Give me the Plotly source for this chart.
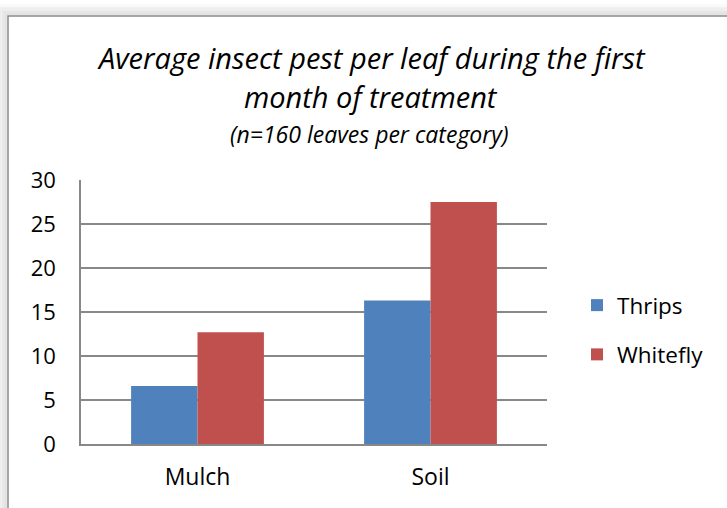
import plotly.graph_objects as go

categories = ["Mulch", "Soil"]
thrips = [6.6, 16.3]
whitefly = [12.7, 27.5]
series_names = ["Thrips", "Whitefly"]
y_ticks = [0, 5, 10, 15, 20, 25, 30]

W, H = 727, 508
L, R, T, B = 81, 180, 180, 64
PW, PH = W - L - R, H - T - B

def px(x):
    return (x - L) / PW

def py(y):
    return (H - B - y) / PH

FONT = "'Open Sans', sans-serif"

fig = go.Figure()
fig.add_trace(go.Bar(x=categories, y=thrips, name=series_names[0],
                     marker=dict(color="#4F81BD", line=dict(width=0)),
                     legendgroup="a"))
fig.add_trace(go.Bar(x=categories, y=whitefly, name=series_names[1],
                     marker=dict(color="#C0504D", line=dict(width=0)),
                     legendgroup="b"))

shapes = []
# shadow
for i in range(1, 8):
    a = 0.10 * (8 - i) / 7
    shapes.append(dict(type="rect", xref="paper", yref="paper",
                       x0=px(8 - 1.6 * i), x1=px(760), y0=py(16 - 1.6 * i), y1=py(540),
                       line=dict(color=f"rgba(0,0,0,{a:.3f})", width=2), fillcolor="rgba(0,0,0,0)",
                       layer="below"))
shapes.append(dict(type="rect", xref="paper", yref="paper",
                   x0=px(8), x1=px(760), y0=py(16), y1=py(540),
                   line=dict(color="#8a8a8a", width=1.5), fillcolor="white", layer="below"))

annotations = [
    dict(text="<i>Average insect pest per leaf during the first</i>", x=px(371), y=py(58),
         xref="paper", yref="paper", showarrow=False, xanchor="center", yanchor="middle",
         font=dict(size=29, color="black", family=FONT)),
    dict(text="<i>month of treatment</i>", x=px(371), y=py(97),
         xref="paper", yref="paper", showarrow=False, xanchor="center", yanchor="middle",
         font=dict(size=29, color="black", family=FONT)),
    dict(text="<i>(n=160 leaves per category)</i>", x=px(369), y=py(134),
         xref="paper", yref="paper", showarrow=False, xanchor="center", yanchor="middle",
         font=dict(size=23, color="black", family=FONT)),
]

fig.update_layout(
    width=W, height=H,
    margin=dict(l=L, r=R, t=T, b=B),
    paper_bgcolor="white", plot_bgcolor="rgba(0,0,0,0)",
    barmode="group", bargap=0.43, bargroupgap=0,
    font=dict(family=FONT, color="black", size=22),
    showlegend=True,
    legend=dict(x=px(577), y=py(284), xanchor="left", yanchor="top",
                font=dict(size=22.5, family=FONT), tracegroupgap=17,
                bgcolor="rgba(0,0,0,0)", itemwidth=30),
    shapes=shapes, annotations=annotations,
)
fig.update_xaxes(showline=True, linecolor="#888888", linewidth=1.5, showgrid=False,
                 ticks="", tickfont=dict(size=23, family=FONT), ticklabelstandoff=12)
fig.update_yaxes(range=[0, 30], tickvals=y_ticks, showgrid=True, gridcolor="#888888",
                 gridwidth=1.5, showline=True, linecolor="#888888", linewidth=1.5,
                 zeroline=False, ticks="", tickfont=dict(size=22, family=FONT),
                 ticklabelstandoff=19)
fig.write_html("out.html", config={"displayModeBar": False},
               post_script="document.body.style.margin='0';document.body.style.overflow='hidden';")
